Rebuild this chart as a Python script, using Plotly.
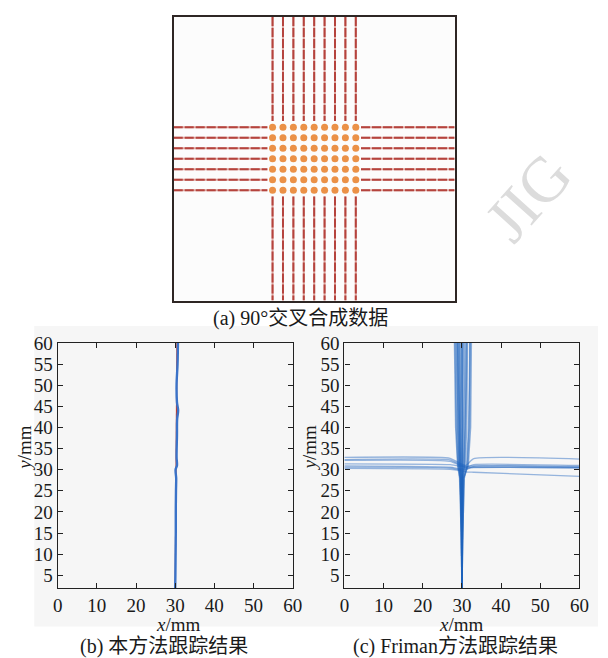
import plotly.graph_objects as go

W, H = 608, 658

# ---------------- data ----------------
# (a) synthetic 90-degree crossing data (grid units, box 0..27)
a_cols = [9.5, 10.5, 11.5, 12.5, 13.5, 14.5, 15.5, 16.5, 17.5]   # vertical tubes
a_rows = [10.5, 11.5, 12.5, 13.5, 14.5, 15.5, 16.5]               # horizontal tubes
a_box = [0, 27]
a_vgap = [9.9, 17.1]     # vertical tubes interrupted between these y
a_hgap = [9.0, 18.0]     # horizontal tubes interrupted between these x

# (b) proposed method: traced centreline and ground truth
b_y = [2, 5, 10, 15, 20, 25, 28, 30, 31, 33, 38, 42, 44, 46, 50, 55, 60]
b_x = [30.0, 30.05, 30.1, 30.15, 30.15, 30.2, 30.25, 30.1, 30.45, 30.35,
       30.45, 30.5, 30.75, 30.45, 30.35, 30.6, 30.7]
b_true_y = [2, 60]
b_true_x = [30.0, 30.45]

# (c) Friman method: vertical tracks (x at given y)
c_vy = [2, 15, 28, 31, 40, 50, 60]
c_vx = [
    [30.0, 29.8, 29.4, 28.9, 28.4, 28.2, 28.1],
    [30.0, 29.9, 29.6, 29.2, 28.9, 28.7, 28.6],
    [30.0, 29.9, 29.7, 29.5, 29.3, 29.2, 29.1],
    [30.0, 30.0, 29.8, 29.7, 29.6, 29.6, 29.5],
    [30.0, 30.0, 29.9, 29.9, 29.9, 29.9, 30.0],
    [30.0, 30.0, 30.0, 30.1, 30.2, 30.2, 30.3],
    [30.0, 30.0, 30.1, 30.3, 30.5, 30.6, 30.6],
    [30.0, 30.1, 30.2, 30.5, 30.8, 30.9, 31.0],
    [30.0, 30.1, 30.3, 30.8, 31.2, 31.3, 31.4],
    [30.0, 30.2, 30.5, 31.2, 31.7, 31.9, 32.0],
    [30.0, 30.1, 30.4, 31.6, 32.2, 32.3, 32.4],
    [30.0, 29.9, 29.5, 29.0, 28.6, 28.5, 28.3],
    [30.0, 29.9, 29.6, 29.3, 29.0, 28.9, 28.8],
    [30.0, 30.0, 29.9, 29.6, 29.4, 29.4, 29.3],
    [30.0, 30.0, 30.0, 30.0, 30.0, 30.1, 30.1],
    [30.0, 30.1, 30.2, 30.6, 30.9, 31.1, 31.2],
    [30.0, 30.2, 30.6, 31.4, 31.9, 32.0, 32.1],
    [30.0, 29.9, 29.7, 29.4, 29.2, 29.0, 28.9],
    [30.0, 30.0, 30.0, 29.8, 29.7, 29.8, 29.8],
]
# (c) Friman method: horizontal tracks (y at given x)
c_hx = [0, 27, 29.5, 31, 33, 60.5]
c_hy = [
    [32.9, 32.7, 31.5, 31.0, 32.6, 32.5],
    [32.4, 32.3, 31.2, 30.8, 30.9, 30.6],
    [31.4, 31.2, 30.8, 30.5, 30.6, 30.4],
    [30.9, 30.6, 30.2, 30.3, 30.5, 30.5],
    [30.3, 30.1, 29.8, 29.5, 29.4, 28.4],
    [32.2, 32.0, 31.0, 30.6, 31.2, 31.0],
    [30.6, 30.4, 30.0, 30.0, 30.8, 30.7],
]

x_ticks = [0, 10, 20, 30, 40, 50, 60]
y_ticks = [5, 10, 15, 20, 25, 30, 35, 40, 45, 50, 55, 60]

# ---------------- helpers ----------------
def px2x(p):
    return p / W

def px2y(p):
    return 1 - p / H

fig = go.Figure()

# ---- panel (a)
vx, vy = [], []
for c in a_cols:
    vx += [c, c, None, c, c, None]
    vy += [a_box[0], a_vgap[0], None, a_vgap[1], a_box[1], None]
hx, hy = [], []
for r in a_rows:
    hx += [a_box[0], a_hgap[0], None, a_hgap[1], a_box[1], None]
    hy += [r, r, None, r, r, None]
for xs, ys in ((vx, vy), (hx, hy)):
    fig.add_trace(go.Scatter(x=xs, y=ys, mode="lines", xaxis="x3", yaxis="y3",
                             line=dict(color="#dfa8a2", width=2), hoverinfo="skip"))
    fig.add_trace(go.Scatter(x=xs, y=ys, mode="lines", xaxis="x3", yaxis="y3",
                             line=dict(color="#b5433d", width=2, dash="9px,2px"),
                             hoverinfo="skip"))
dx, dy = [], []
for r in a_rows:
    for c in a_cols:
        dx.append(c)
        dy.append(r)
fig.add_trace(go.Scatter(x=dx, y=dy, mode="markers", xaxis="x3", yaxis="y3",
                         marker=dict(color="#eb9147", size=7, line=dict(width=0))))

# ---- panel (b)
fig.add_trace(go.Scatter(x=b_true_x, y=b_true_y, mode="lines", xaxis="x", yaxis="y",
                         line=dict(color="#c0392b", width=1.2)))
fig.add_trace(go.Scatter(x=b_x, y=b_y, mode="lines", xaxis="x", yaxis="y",
                         line=dict(color="#3a72c8", width=2.4, shape="spline")))

# ---- panel (c)
for xs in c_vx:
    fig.add_trace(go.Scatter(x=xs, y=c_vy, mode="lines", xaxis="x2", yaxis="y2",
                             line=dict(color="rgba(30,100,190,0.5)", width=1.5)))
for ys in c_hy:
    fig.add_trace(go.Scatter(x=c_hx, y=ys, mode="lines", xaxis="x2", yaxis="y2",
                             line=dict(color="rgba(30,100,190,0.45)", width=1.3,
                                       shape="spline", smoothing=0.5)))

serif = "Liberation Serif, Times New Roman, Noto Sans CJK SC, serif"
cap_font = dict(family="Liberation Serif, Noto Sans CJK SC, serif", size=20, color="#1a1a1a")
lab_font = dict(family="Liberation Serif, Noto Sans CJK SC, serif", size=19, color="#1a1a1a")

common_ax = dict(showline=True, linecolor="#222", linewidth=1.2, mirror="ticks",
                 ticks="inside", ticklen=5, tickwidth=1, tickcolor="#222",
                 showgrid=False, zeroline=False,
                 tickfont=dict(family=serif, size=19, color="#1a1a1a"))

fig.update_layout(
    width=W, height=H, margin=dict(l=0, r=0, t=0, b=0),
    paper_bgcolor="white", plot_bgcolor="#fcfcfc", showlegend=False,
    xaxis=dict(domain=[px2x(54), px2x(295)], range=[0, 60], anchor="y",
               tickvals=x_ticks, **common_ax),
    yaxis=dict(domain=[px2y(587), px2y(338)], range=[2, 60], anchor="x",
               tickvals=y_ticks, **common_ax),
    xaxis2=dict(domain=[px2x(348), px2x(589)], range=[0, 60], anchor="y2",
                tickvals=x_ticks, **common_ax),
    yaxis2=dict(domain=[px2y(587), px2y(338)], range=[2, 60], anchor="x2",
                tickvals=y_ticks, **common_ax),
    xaxis3=dict(domain=[px2x(173), px2x(461)], range=a_box, anchor="y3",
                showline=True, linecolor="#2e2624", linewidth=1.5, mirror=True,
                showticklabels=False, ticks="", showgrid=False, zeroline=False),
    yaxis3=dict(domain=[px2y(295), px2y(7)], range=[a_box[1], a_box[0]], anchor="x3",
                showline=True, linecolor="#2e2624", linewidth=1.5, mirror=True,
                showticklabels=False, ticks="", showgrid=False, zeroline=False),
    shapes=[dict(type="rect", xref="paper", yref="paper", layer="below",
                 x0=px2x(30), x1=1, y0=px2y(626), y1=px2y(321),
                 fillcolor="#f6f6f6", line=dict(width=0))],
)

ann = [
    ("(a) 90°交叉合成数据", 303, 313, 0, cap_font),
    ("(b) 本方法跟踪结果", 163, 646, 0, cap_font),
    ("(c) Friman方法跟踪结果", 462, 646, 0, cap_font),
    ("<i>x</i>/mm", 177, 624, 0, lab_font),
    ("<i>x</i>/mm", 468, 624, 0, lab_font),
    ("<i>y</i>/mm", 20, 445, -90, lab_font),
    ("<i>y</i>/mm", 312, 445, -90, lab_font),
]
for text, x, y, ang, f in ann:
    fig.add_annotation(text=text, x=px2x(x), y=px2y(y), xref="paper", yref="paper",
                       showarrow=False, xanchor="center", yanchor="middle",
                       textangle=ang, font=f)

# watermark
fig.add_annotation(text="JIG", x=px2x(536), y=px2y(190), xref="paper", yref="paper",
                   showarrow=False, textangle=-48, xanchor="center", yanchor="middle",
                   font=dict(family="Liberation Serif, serif", size=64, color="#dcdcdc"))

fig.write_html("out.html")
